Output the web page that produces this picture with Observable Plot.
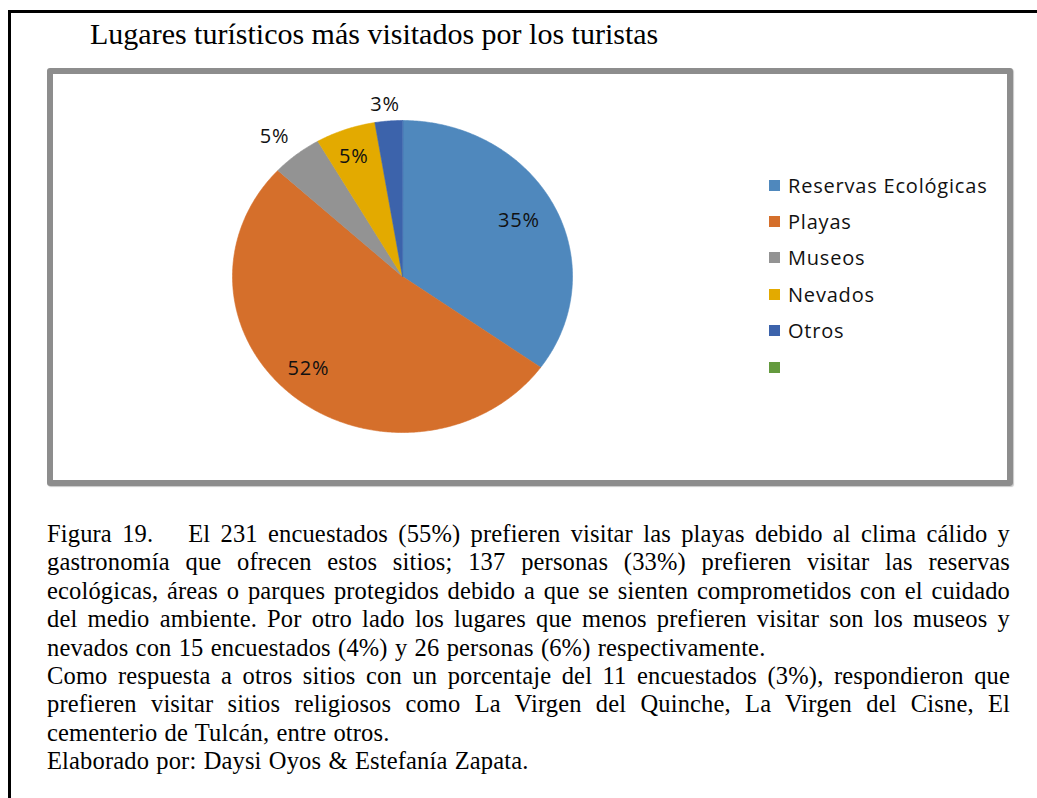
<!DOCTYPE html>
<html>
<head>
<meta charset="utf-8">
<script src="https://cdn.jsdelivr.net/npm/d3@7"></script>
<script src="https://cdn.jsdelivr.net/npm/@observablehq/plot@0.6"></script>
<style>
  html, body { margin: 0; padding: 0; background: #fff; }
  #page { position: relative; width: 1037px; height: 798px; overflow: hidden; background: #fff; }
  #frameTop { position: absolute; left: 8px; top: 10px; width: 1029px; height: 3px; background: #000; }
  #frameLeft { position: absolute; left: 8px; top: 10px; width: 3px; height: 788px; background: #000; }
  #title { position: absolute; left: 90px; top: 16px; font-family: "Liberation Serif", "Times New Roman", serif; font-size: 30px; line-height: 36px; color: #000; white-space: nowrap; }
  #box { position: absolute; left: 47px; top: 68px; width: 954px; height: 406px; border: 6px solid #8d8d8d; border-radius: 3px; box-shadow: 1px 1px 1px #c8c8c8; }
  #box svg { display: block; }
  #legend { position: absolute; left: 769px; top: 0; }
  .lg { position: absolute; left: 0; display: flex; align-items: center; font-family: "Open Sans", sans-serif; font-size: 20px; letter-spacing: 0.8px; color: #111; white-space: nowrap; }
  .lg .sw { width: 11px; height: 11px; margin-right: 8px; flex: none; }
  #caption { position: absolute; left: 47px; top: 520px; width: 963px; font-family: "Liberation Serif", "Times New Roman", serif; font-size: 24.5px; letter-spacing: 0.15px; word-spacing: 1px; line-height: 28.4px; color: #000; }
  #caption div { text-align: left; white-space: nowrap; }
  #caption div.j { text-align: justify; text-align-last: justify; white-space: normal; word-spacing: 0; }
</style>
</head>
<body>
<div id="page">
  <div id="frameTop"></div>
  <div id="frameLeft"></div>
  <div id="title"></div>
  <div id="box"></div>
  <div id="legend"></div>
  <div id="caption"></div>
</div>
<script>
// ---- data ----
const titleText = "Lugares turísticos más visitados por los turistas";
const categories = ["Reservas Ecológicas", "Playas", "Museos", "Nevados", "Otros"];
const values = [34.9, 52.0, 4.8, 5.7, 2.6];
const percentLabels = ["35%", "52%", "5%", "5%", "3%"];
const legendCategories = ["Reservas Ecológicas", "Playas", "Museos", "Nevados", "Otros", ""];
const colors = ["#4f88bd", "#d56f2b", "#939393", "#e3aa00", "#3c63ab", "#649a3e"];
const captionLines = [
  "Figura 19.\u2003 El 231 encuestados (55%) prefieren visitar las playas debido al clima cálido y",
  "gastronomía que ofrecen estos sitios; 137 personas (33%) prefieren visitar las reservas",
  "ecológicas, áreas o parques protegidos debido a que se sienten comprometidos con el cuidado",
  "del medio ambiente. Por otro lado los lugares que menos prefieren visitar son los museos y",
  "nevados con 15 encuestados (4%) y 26 personas (6%) respectivamente.",
  "Como respuesta a otros sitios con un porcentaje del 11 encuestados (3%), respondieron que",
  "prefieren visitar sitios religiosos como La Virgen del Quinche, La Virgen del Cisne, El",
  "cementerio de Tulcán, entre otros.",
  "Elaborado por: Daysi Oyos & Estefanía Zapata."
];
const justifiedLines = [true, true, true, true, false, true, true, false, false];

// ---- layout (pixels) ----
const W = 954, H = 406;
const cx = 349, cy = 202, rx = 170, ry = 156;
const labelRadius = [0.77, 0.81, 1.17, 0.82, 1.12];
const labelDx = [0, -7, -4, -2, -2];
const labelDy = [-1, -6, 3, 1, 2];

// ---- build slices (angles from data) ----
const total = d3.sum(values);
let acc = 0;
const slicePts = [];
const labelPts = [];
values.forEach((v, i) => {
  const a0 = acc / total * 2 * Math.PI;
  acc += v;
  const a1 = acc / total * 2 * Math.PI;
  slicePts.push({cat: categories[i], x: 0, y: 0});
  const n = Math.max(2, Math.ceil((a1 - a0) / (Math.PI / 360)));
  for (let k = 0; k <= n; k++) {
    const a = a0 + (a1 - a0) * k / n;
    slicePts.push({cat: categories[i], x: Math.sin(a), y: Math.cos(a)});
  }
  const am = (a0 + a1) / 2;
  labelPts.push({cat: categories[i], label: percentLabels[i], x: labelRadius[i] * Math.sin(am), y: labelRadius[i] * Math.cos(am)});
});

const chart = Plot.plot({
  width: W,
  height: H,
  margin: 0,
  style: {background: "transparent", overflow: "visible"},
  x: {domain: [-1, 1], range: [cx - rx, cx + rx], axis: null},
  y: {domain: [-1, 1], range: [cy + ry, cy - ry], axis: null},
  color: {domain: legendCategories, range: colors},
  marks: [
    Plot.line(slicePts, {x: "x", y: "y", z: "cat", fill: "cat", stroke: "cat", strokeWidth: 0.6, curve: "linear-closed"}),
    ...labelPts.map((d, i) => Plot.text([d], {x: "x", y: "y", text: "label", dx: labelDx[i], dy: labelDy[i], fill: "#111", fontSize: 20, fontFamily: "Open Sans"}))
  ]
});
chart.querySelectorAll("text").forEach(t => t.style.letterSpacing = "0.8px");
document.getElementById("box").appendChild(chart);

document.getElementById("title").textContent = titleText;

const legend = document.getElementById("legend");
legendCategories.forEach((c, i) => {
  const row = document.createElement("div");
  row.className = "lg";
  row.style.top = (185 + i * 36.4 - 14) + "px";
  row.style.height = "28px";
  const sw = document.createElement("span");
  sw.className = "sw";
  sw.style.background = colors[i];
  const tx = document.createElement("span");
  tx.textContent = c;
  row.appendChild(sw);
  row.appendChild(tx);
  legend.appendChild(row);
});

const cap = document.getElementById("caption");
captionLines.forEach((l, i) => {
  const d = document.createElement("div");
  if (justifiedLines[i]) d.className = "j";
  d.textContent = l;
  cap.appendChild(d);
});
</script>
</body>
</html>
